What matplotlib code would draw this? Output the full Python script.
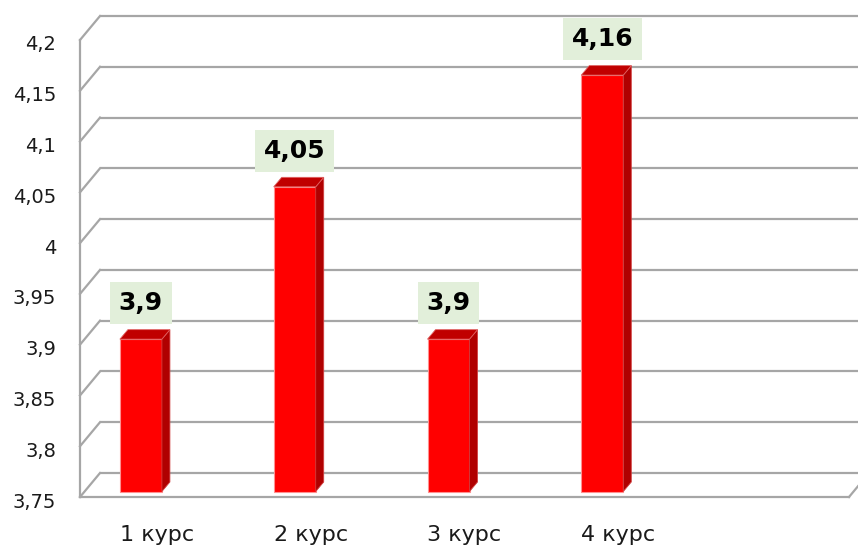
import matplotlib
matplotlib.use("Agg")
import matplotlib.pyplot as plt
from matplotlib.patches import Polygon
import numpy as np

categories = ["1 курс", "2 курс", "3 курс", "4 курс"]
values = [3.9, 4.05, 3.9, 4.16]
value_labels = ["3,9", "4,05", "3,9", "4,16"]
yticks = [3.75, 3.8, 3.85, 3.9, 3.95, 4.0, 4.05, 4.1, 4.15, 4.2]
ytick_labels = ["3,75", "3,8", "3,85", "3,9", "3,95", "4", "4,05", "4,1", "4,15", "4,2"]
n_slots = 5
ymin, ymax = 3.75, 4.2

W, H, DPI = 858, 546, 100
PT = 72 / DPI  # points per pixel
fig = plt.figure(figsize=(W / DPI, H / DPI), dpi=DPI)
ax_l, ax_r, ax_b, ax_t = 80, 849, 497, 40
ax = fig.add_axes([ax_l / W, 1 - ax_b / H, (ax_r - ax_l) / W, (ax_b - ax_t) / H])
ax.set_xlim(0, n_slots)
ax.set_ylim(ymin, ymax)
ax.axis("off")

# pixel -> data conversions
px_x = n_slots / (ax_r - ax_l)
px_y = (ymax - ymin) / (ax_b - ax_t)

grid_c = "#a6a6a6"
bdx, bdy = 20 * px_x, 24 * px_y  # back wall offset

# back gridlines and side-wall diagonals
for v in yticks:
    ax.plot([bdx, n_slots + bdx + 1], [v + bdy, v + bdy], color=grid_c, lw=1.6,
            clip_on=False, solid_capstyle="butt", zorder=1)
    ax.plot([0, bdx], [v, v + bdy], color=grid_c, lw=1.6, clip_on=False, zorder=1)
# left front axis
ax.plot([0, 0], [ymin, ymax], color=grid_c, lw=1.6, clip_on=False, zorder=1)
# floor front edge and right diagonal
ax.plot([0, n_slots], [ymin, ymin], color=grid_c, lw=1.6, clip_on=False, zorder=1)
ax.plot([n_slots, n_slots + bdx], [ymin, ymin + bdy], color=grid_c, lw=1.6,
        clip_on=False, zorder=1)

# bars (3D look)
bar_w = 42 * px_x
shift_x = -16 * px_x
lift = 5.5 * px_y
ddx, ddy = 8 * px_x, 9.5 * px_y
xc = np.arange(len(categories)) + 0.5
bar_x = xc + shift_x
ax.bar(bar_x, np.array(values) - ymin, bottom=ymin + lift, width=bar_w,
       color="#ff0000", edgecolor="#ff9090", linewidth=0.8, zorder=3)
for x, v in zip(bar_x, values):
    x0, x1 = x - bar_w / 2, x + bar_w / 2
    y0, y1 = ymin + lift, v + lift
    side = Polygon([[x1, y0], [x1 + ddx, y0 + ddy], [x1 + ddx, y1 + ddy], [x1, y1]],
                   closed=True, facecolor="#b00000", edgecolor="#d04040", lw=0.6, zorder=3)
    top = Polygon([[x0, y1], [x1, y1], [x1 + ddx, y1 + ddy], [x0 + ddx, y1 + ddy]],
                  closed=True, facecolor="#c00000", edgecolor="#e06060", lw=0.6, zorder=3)
    ax.add_patch(side)
    ax.add_patch(top)

# value labels
for x, v, lab in zip(bar_x, values, value_labels):
    ax.annotate(lab, (x, v + lift), xytext=(0, 24 * PT), textcoords="offset points",
                ha="center", va="bottom", fontsize=18, fontweight="bold",
                family="DejaVu Sans", color="black", zorder=5,
                bbox=dict(boxstyle="square,pad=0.35", facecolor="#e2efda", edgecolor="none"))

# y tick labels
for v, lab in zip(yticks, ytick_labels):
    ax.annotate(lab, (0, v), xytext=(-24 * PT, -5 * PT),
                textcoords="offset points", ha="right", va="center", fontsize=14,
                family="DejaVu Sans", color="#1a1a1a", annotation_clip=False)

# x tick labels
for x, lab in zip(xc, categories):
    ax.annotate(lab, (x, ymin), xytext=(0, -38 * PT), textcoords="offset points",
                ha="center", va="center", fontsize=16, family="DejaVu Sans",
                color="#1a1a1a", annotation_clip=False)

fig.savefig("out.png", dpi=DPI)
